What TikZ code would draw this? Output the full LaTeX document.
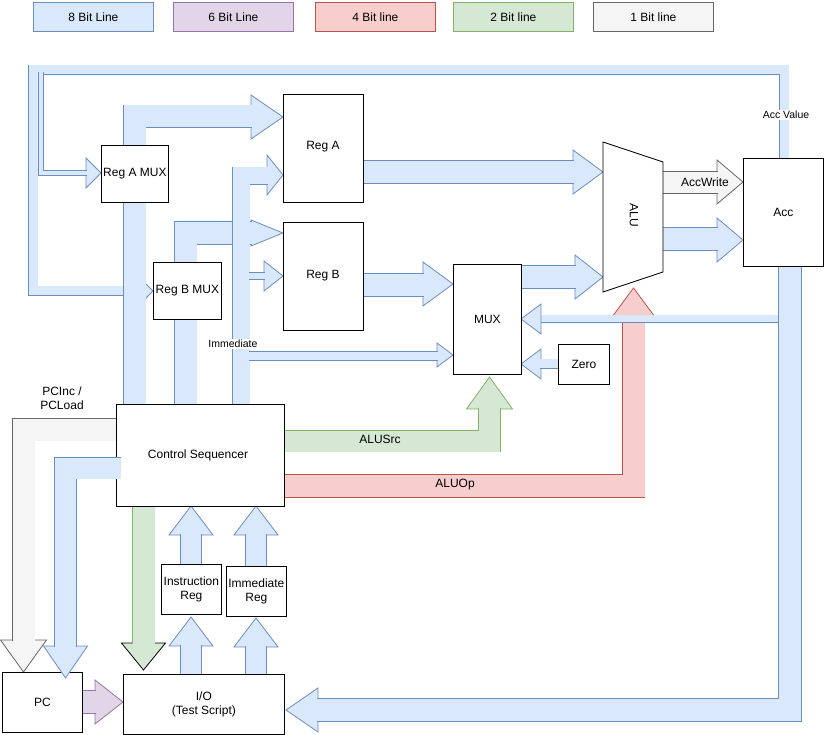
\documentclass[tikz,border=0pt]{standalone}
\usepackage{fontspec}
\setmainfont{Liberation Sans}
\definecolor{bF}{HTML}{DAE8FC}\definecolor{bB}{HTML}{6C8EBF}
\definecolor{gF}{HTML}{F5F5F5}\definecolor{gB}{HTML}{666666}
\definecolor{nF}{HTML}{D5E8D4}\definecolor{nB}{HTML}{82B366}
\definecolor{rF}{HTML}{F8CECC}\definecolor{rB}{HTML}{B85450}
\definecolor{pF}{HTML}{E1D5E7}\definecolor{pB}{HTML}{9673A6}
\newcommand\hR[5]{\draw[#5] (#1,#2) -- ++(-#3,#4) -- ++(0,-2*#4) -- cycle;}
\newcommand\hL[5]{\draw[#5] (#1,#2) -- ++(#3,#4) -- ++(0,-2*#4) -- cycle;}
\newcommand\hU[5]{\draw[#5] (#1,#2) -- ++(#4,#3) -- ++(-2*#4,0) -- cycle;}
\newcommand\hD[5]{\draw[#5] (#1,#2) -- ++(#4,-#3) -- ++(-2*#4,0) -- cycle;}
\newcommand\sh[3]{\draw[#1, double distance=#2] #3;}
\tikzset{
 bh/.style={draw=bB,fill=bF,line join=miter}, bs/.style={draw=bB,double=bF,line join=miter},
 gh/.style={draw=gB,fill=gF,line join=miter}, gs/.style={draw=gB,double=gF,line join=miter},
 nh/.style={draw=nB,fill=nF,line join=miter}, ns/.style={draw=nB,double=nF,line join=miter},
 rh/.style={draw=rB,fill=rF,line join=miter}, rs/.style={draw=rB,double=rF,line join=miter},
 ph/.style={draw=pB,fill=pF,line join=miter}, ps/.style={draw=pB,double=pF,line join=miter},
 box/.style={draw=black,fill=white,inner sep=0pt,anchor=north west,font=\fontsize{12}{14}\selectfont,align=center},
 leg/.style={inner sep=0pt,anchor=north west,minimum width=120pt,minimum height=29pt,font=\fontsize{12}{14}\selectfont},
 lab/.style={font=\fontsize{12}{14}\selectfont,inner sep=1pt},
 sm/.style={font=\fontsize{10.5}{12}\selectfont,inner sep=1pt}
}
\begin{document}
\begin{tikzpicture}[x=1pt,y=-1pt,line width=0.8pt]
\useasboundingbox (0,0) rectangle (825,735);
% legend
\node[leg,draw=bB,fill=bF] (l8) at (33,2) {8 Bit Line};
\node[leg,draw=pB,fill=pF] (l6) at (173,2) {6 Bit Line};
\node[leg,draw=rB,fill=rF] (l4) at (315,2) {4 Bit line};
\node[leg,draw=nB,fill=nF] (l2) at (453,2) {2 Bit line};
\node[leg,draw=gB,fill=gF] (l1) at (593,2) {1 Bit line};
% top loop
\hR{153}{291}{15}{15}{bh}
\hR{101}{173}{15}{15}{bh}
\sh{bs}{9pt}{(784,158) -- (784,70) -- (33,70) -- (33,291) -- (139,291)}
\sh{bs}{4pt}{(41,72) -- (41,173) -- (87,173)}
% CS -> Reg A
\hR{283}{117}{32}{22}{bh}
\sh{bs}{22pt}{(134.5,404) -- (134.5,116.5) -- (252,116.5)}
% CS -> Reg B
\hR{283}{233}{32}{13}{bh}
\sh{bs}{22pt}{(185.5,404) -- (185.5,233) -- (252,233)}
% Immediate
\hR{283}{175}{16}{20}{bh}
\hR{283}{276}{19}{15}{bh}
\hR{453}{355}{16}{12}{bh}
\sh{bs}{17pt}{(241,404) -- (241,176) -- (268,176)}
\sh{bs}{6pt}{(249,276) -- (265,276)}
\sh{bs}{8pt}{(249,356) -- (438,356)}
% Reg A -> ALU
\hR{603}{172}{30}{22}{bh}
\sh{bs}{22pt}{(363,172) -- (574,172)}
% Reg B -> MUX
\hR{453}{284}{30}{22}{bh}
\sh{bs}{22pt}{(363,285) -- (424,285)}
% MUX -> ALU
\hR{603}{277}{28}{22}{bh}
\sh{bs}{22pt}{(521,277) -- (576,277)}
% ALU -> Acc
\hR{743}{182}{26}{22}{gh}
\sh{gs}{21pt}{(663,182.5) -- (718,182.5)}
\hR{743}{240}{26}{22}{bh}
\sh{bs}{22pt}{(663,239) -- (718,239)}
% ALUOp
\hU{633.5}{288}{31}{23}{rh}
\sh{rs}{22pt}{(284,486) -- (633.5,486) -- (633.5,318)}
% Acc -> IO and MUX
\hL{286}{710}{32}{22}{bh}
\sh{bs}{7pt}{(780,319) -- (540,319)}
\hL{521}{319}{20}{15}{bh}
\sh{bs}{22pt}{(790,266) -- (790,710) -- (317,710)}
% Zero -> MUX
\hL{521}{364}{20}{15}{bh}
\sh{bs}{9pt}{(558,364) -- (540,364)}
% ALUSrc
\hU{489.5}{377}{32}{23}{nh}
\sh{ns}{21pt}{(284,441) -- (489.5,441) -- (489.5,408)}
% PCInc
\hD{23.5}{672}{32}{23}{gh}
\sh{gs}{22pt}{(117,429.5) -- (23.5,429.5) -- (23.5,641)}
% CS -> IO green
\hD{143.5}{670}{27}{22}{draw=black,fill=nF,line join=miter}
\sh{ns}{22pt}{(143.5,506) -- (143.5,644)}
% IO -> regs -> CS
\hU{191}{506}{29}{22}{bh}
\hU{256}{506}{29}{22}{bh}
\hU{191}{617}{29}{22}{bh}
\hU{256}{618}{29}{22}{bh}
\sh{bs}{20pt}{(191,564) -- (191,534)}
\sh{bs}{20pt}{(256,566) -- (256,534)}
\sh{bs}{20pt}{(191,674) -- (191,645)}
\sh{bs}{20pt}{(256,674) -- (256,646)}
% PC -> IO
\hR{123}{702}{28}{22}{ph}
\sh{ps}{22pt}{(82,702) -- (96,702)}
% boxes
\node[box,minimum width=67pt,minimum height=57pt] (ramux) at (101,145) {Reg A MUX};
\node[box,minimum width=68pt,minimum height=57pt] (rbmux) at (153,262) {Reg B MUX};
\node[box,minimum width=80pt,minimum height=108pt,anchor=north west] (rega) at (283,94) {};
\node[lab] at (323,147) {Reg A};
\node[box,minimum width=80pt,minimum height=108pt] (regb) at (283,222) {};
\node[lab] at (323,276) {Reg B};
\node[box,minimum width=68pt,minimum height=110pt] (mux) at (453,264) {MUX};
\node[box,minimum width=51pt,minimum height=40pt] (zero) at (558,344) {Zero};
\draw[fill=white] (603,142) -- (663,162) -- (663,272) -- (603,292) -- cycle;
\node[lab,rotate=-90] (alu) at (634,215) {ALU};
\node[box,minimum width=80pt,minimum height=108pt] (acc) at (743,158) {Acc};
\node[box,minimum width=168pt,minimum height=102pt] (cs) at (116,404) {};
\node[lab] at (198,455) {Control Sequencer};
\node[box,minimum width=60pt,minimum height=50pt] (ir) at (161,564) {Instruction\\Reg};
\node[box,minimum width=60pt,minimum height=50pt] (imr) at (226,566) {Immediate\\Reg};
\node[box,minimum width=80pt,minimum height=60pt] (pc) at (2,672) {PC};
\node[box,minimum width=161pt,minimum height=60pt] (io) at (123,674) {I/O\\(Test Script)};
% CS -> PC blue (on top of CS)
\hD{65.5}{678}{32}{22}{bh}
\sh{bs}{21pt}{(121,468) -- (65.5,468) -- (65.5,647)}
% labels
\node[sm,fill=white] at (786,115) {Acc Value};
\node[sm,fill=white] at (233,344) {Immediate};
\node[lab] at (705,182) {AccWrite};
\node[lab] at (380,439) {ALUSrc};
\node[lab] at (455,485) {ALUOp};
\node[lab,align=center] at (62,398) {PCInc /\\PCLoad};
\end{tikzpicture}
\end{document}
